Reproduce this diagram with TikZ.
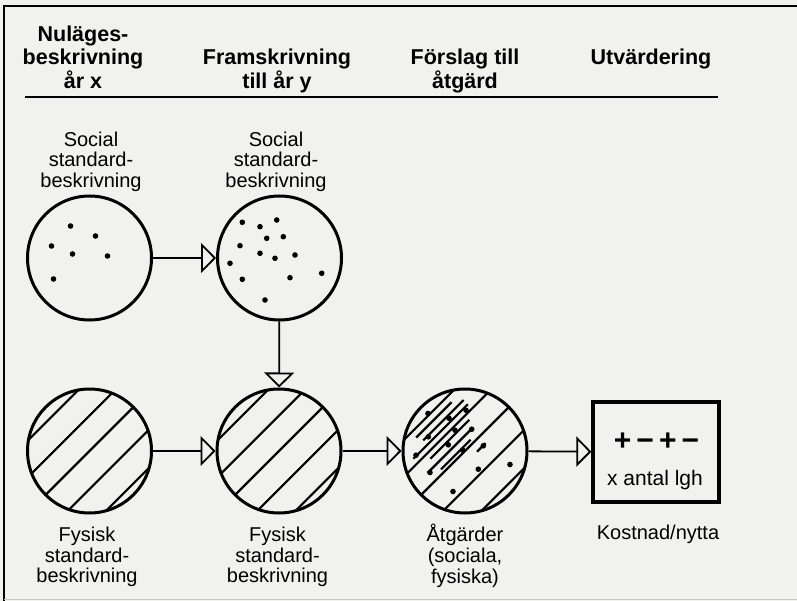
\documentclass[tikz,border=0pt]{standalone}
\usepackage{fontspec}
\setmainfont{Liberation Sans}
\usetikzlibrary{arrows.meta}
\definecolor{bg}{RGB}{241,241,239}
\newcommand\hseg[4]{\draw[hatchline] ([shift={({0.7071*(#2+#3)},{0.7071*(#2-#3)})}]#1) -- ([shift={({0.7071*(#2+#4)},{0.7071*(#2-#4)})}]#1);}
\newcommand\pdot[2]{\fill ([shift={(#2)}]#1) circle (2.8);}
\begin{document}
\begin{tikzpicture}[x=1pt,y=-1pt,
  head/.style={font=\fontsize{21.5}{23.4}\selectfont\bfseries, align=center, inner sep=0pt},
  lab/.style={font=\fontsize{20}{20.7}\selectfont, align=center, inner sep=0pt},
  disc/.style={circle, draw, line width=3pt, minimum size=124pt, inner sep=0pt},
  hatchline/.style={line width=2.2pt},
  hatched/.style={path picture={
    \foreach \d in {-51,-25,0,27,54}{
      \draw[hatchline] ([shift={({0.7071*(\d-70)},{0.7071*(\d+70)})}]path picture bounding box.center)
        -- ([shift={({0.7071*(\d+70)},{0.7071*(\d-70)})}]path picture bounding box.center);
    }}},
  flow/.style={line width=1.8pt, -{Triangle[open, length=15pt, width=30pt, line width=1.8pt]}},
  ]
\fill[bg] (0,0) rectangle (797,601);
\useasboundingbox (0,0) rectangle (797,601);
% frame
\draw[line width=2.2pt] (797,6) -- (4,6) -- (4,601);
\draw[line width=1pt, gray!45] (4,599) -- (797,599);

% headers
\node[head] (h1) at (83,57) {Nuläges-\\beskrivning\\år x};
\node[head] (h2) at (277,70.8) {Framskrivning\\till år y};
\node[head] (h3) at (465,70.8) {Förslag till\\åtgärd};
\node[head, anchor=base] (h4) at (651,64.3) {Utvärdering};
\coordinate (rl) at (25,97);
\coordinate (rr) at (718,97);
\draw[line width=2.7pt] (rl) -- (rr);

% circles
\node[disc] (c1) at (89.5,258) {};
\node[disc] (c2) at (279.5,258) {};
\node[disc, hatched] (c3) at (89.5,451) {};
\node[disc, hatched] (c4) at (279,451) {};
\node[disc, hatched] (c5) at (465,451) {};
\node[draw, line width=3.3pt, minimum width=126pt, minimum height=100pt, inner sep=0pt] (box) at (656,452) {};

% dots c1
\foreach \p in {{-19,-32},{6,-22},{-38,-12},{-17,-4},{18,-2},{-36,21}}{\pdot{c1.center}{\p}}
% dots c2
\foreach \p in {{-37.2,-35.7},{-19.5,-31.3},{-2.8,-38},{-12.8,-19.7},{3.8,-21.3},{-39.5,-12.3},{-19.5,-4.7},{-4.5,0.3},{15.5,-3},{-49.5,5.3},{-37.2,21.3},{10.5,19.7},{42.2,15.3},{-14.5,42}}{\pdot{c2.center}{\p}}
% c5 extra strokes and dots
\hseg{c5.center}{-44}{-25}{25}
\hseg{c5.center}{-37}{-22}{35}
\hseg{c5.center}{-31}{-42}{35}
\hseg{c5.center}{-19}{-30}{25}
\hseg{c5.center}{-11}{-42}{22}
\hseg{c5.center}{-4}{-30}{12}
\hseg{c5.center}{9}{8}{20}
\foreach \p in {{-37,-37.5},{-16,-32.8},{1,-40.8},{-10,-20.8},{6.7,-21.8},{-36.7,-14.2},{-16.7,-6.2},{-2.3,-0.8},{18.3,-5.2},{-49,4.2},{13.3,18.2},{-35,21.5},{45,13.5},{-12,40.5}}{\pdot{c5.center}{\p}}

% connectors
\draw[flow] (c1) -- (c2);
\draw[flow] (c2) -- (c4);
\draw[flow] (c3) -- (c4);
\draw[flow] (c4) -- (c5);
\draw[flow] (c5) -- (box);

% labels
\node[lab] (l1) at (91,161.8) {Social\\standard-\\beskrivning};
\node[lab] (l2) at (276,161.8) {Social\\standard-\\beskrivning};
\node[lab] (l3) at (87,557) {Fysisk\\standard-\\beskrivning};
\node[lab] (l4) at (277.5,557) {Fysisk\\standard-\\beskrivning};
\node[lab] (l5) at (465,556) {Åtgärder\\(sociala,\\fysiska)};
\node[lab, anchor=base] (l6) at (658,539.3) {Kostnad/nytta};
\node[inner sep=0pt, font=\fontsize{30}{32}\selectfont\bfseries] (pm) at (656.5,441.7) {+\,−\,+\,−};
\node[inner sep=0pt, font=\fontsize{21}{22}\selectfont, anchor=base] (xa) at (655,485) {x antal lgh};
\end{tikzpicture}
\end{document}
